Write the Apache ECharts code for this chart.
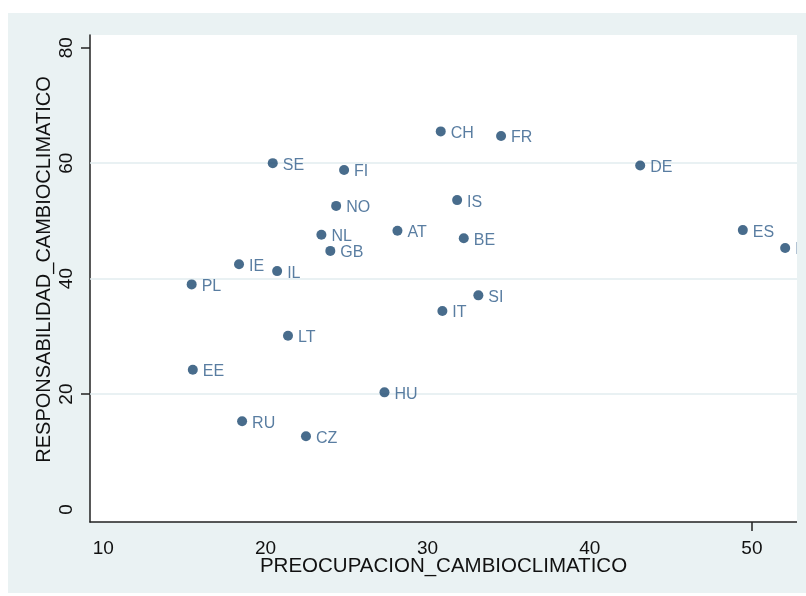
<!DOCTYPE html>
<html>
<head>
<meta charset="utf-8">
<script src="https://cdn.jsdelivr.net/npm/echarts@6/dist/echarts.min.js"></script>
<style>html,body{margin:0;padding:0;background:#fff;}#c{width:806px;height:596px;}</style>
</head>
<body>
<div id="c"></div>
<script>
const countries = ['CH','FR','DE','SE','FI','IS','NO','AT','NL','BE','ES','PT','GB','IE','IL','PL','SI','IT','LT','EE','HU','RU','CZ'];
const preocupacion = [30.81,34.53,43.11,20.45,24.85,31.82,24.36,28.14,23.45,32.23,49.44,52.05,24.00,18.37,20.72,15.45,33.13,30.91,21.39,15.52,27.34,18.56,22.50];
const responsabilidad = [65.5,64.7,59.6,60.0,58.8,53.6,52.6,48.3,47.6,47.0,48.4,45.3,44.8,42.5,41.3,39.0,37.1,34.4,30.1,24.2,20.3,15.3,12.7];
const xTickLabels = [10,20,30,40,50];
const yTickLabels = [0,20,40,60,80];
const xTickMarks = [50];
const yTickMarks = [20,80];
const yGridValues = [20,40,60];

const BG = '#eaf2f3';
const FONT = 'Liberation Sans, Arial, sans-serif';
const chart = echarts.init(document.getElementById('c'));
chart.setOption({
  backgroundColor: BG,
  animation: false,
  grid: {left: 90, top: 35, right: 9, bottom: 74, show: true, backgroundColor: '#fff', borderWidth: 0},
  xAxis: {
    type: 'value', min: 9.18, max: 52.78,
    name: 'PREOCUPACION_CAMBIOCLIMATICO', nameLocation: 'middle', nameGap: 34, nameMoveOverlap: false,
    nameTextStyle: {fontFamily: FONT, fontSize: 20.5, color: '#111'},
    axisLine: {show: true, onZero: false, lineStyle: {color: '#222', width: 1.5}},
    axisTick: {show: true, customValues: xTickMarks, length: 9, lineStyle: {color: '#222', width: 1.5}},
    axisLabel: {customValues: xTickLabels, margin: 17, fontFamily: FONT, fontSize: 19, color: '#111'},
    splitLine: {show: false}
  },
  yAxis: {
    type: 'value', min: -2.16, max: 82.2,
    name: 'RESPONSABILIDAD_CAMBIOCLIMATICO', nameLocation: 'middle', nameGap: 36, nameMoveOverlap: false,
    nameTextStyle: {fontFamily: FONT, fontSize: 20, color: '#111', padding: [0, 0, 0, 18]},
    axisLine: {show: true, onZero: false, lineStyle: {color: '#222', width: 1.5}},
    axisTick: {show: true, customValues: yTickMarks, length: 9, lineStyle: {color: '#222', width: 1.5}},
    axisLabel: {customValues: yTickLabels, rotate: 90, margin: 14, fontFamily: FONT, fontSize: 19, color: '#111'},
    splitLine: {show: false}
  },
  graphic: {elements: [
    {type: 'rect', shape: {x: 0, y: 0, width: 806, height: 13}, style: {fill: '#fff'}, z: 200, silent: true},
    {type: 'rect', shape: {x: 0, y: 0, width: 8, height: 596}, style: {fill: '#fff'}, z: 200, silent: true},
    {type: 'rect', shape: {x: 0, y: 593, width: 806, height: 3}, style: {fill: '#fff'}, z: 200, silent: true},
    {type: 'rect', shape: {x: 797, y: 13, width: 9, height: 580}, style: {fill: BG}, z: 150, silent: true}
  ]},
  series: [{
    type: 'line', data: [], z: 1, silent: true,
    markLine: {
      silent: true, symbol: 'none', label: {show: false}, animation: false,
      lineStyle: {color: '#e2ecef', width: 1.5, type: 'solid'},
      data: yGridValues.map(v => ({yAxis: v}))
    }
  }, {
    type: 'scatter', z: 5,
    data: preocupacion.map((x, i) => ({value: [x, responsabilidad[i]], name: countries[i]})),
    symbol: 'circle', symbolSize: 10,
    itemStyle: {color: '#1a476f'},
    label: {show: true, position: 'right', distance: 5, offset: [0, 2], formatter: p => p.name,
            fontFamily: FONT, fontSize: 16, color: '#2f5d8a'}
  }]
});
</script>
</body>
</html>
